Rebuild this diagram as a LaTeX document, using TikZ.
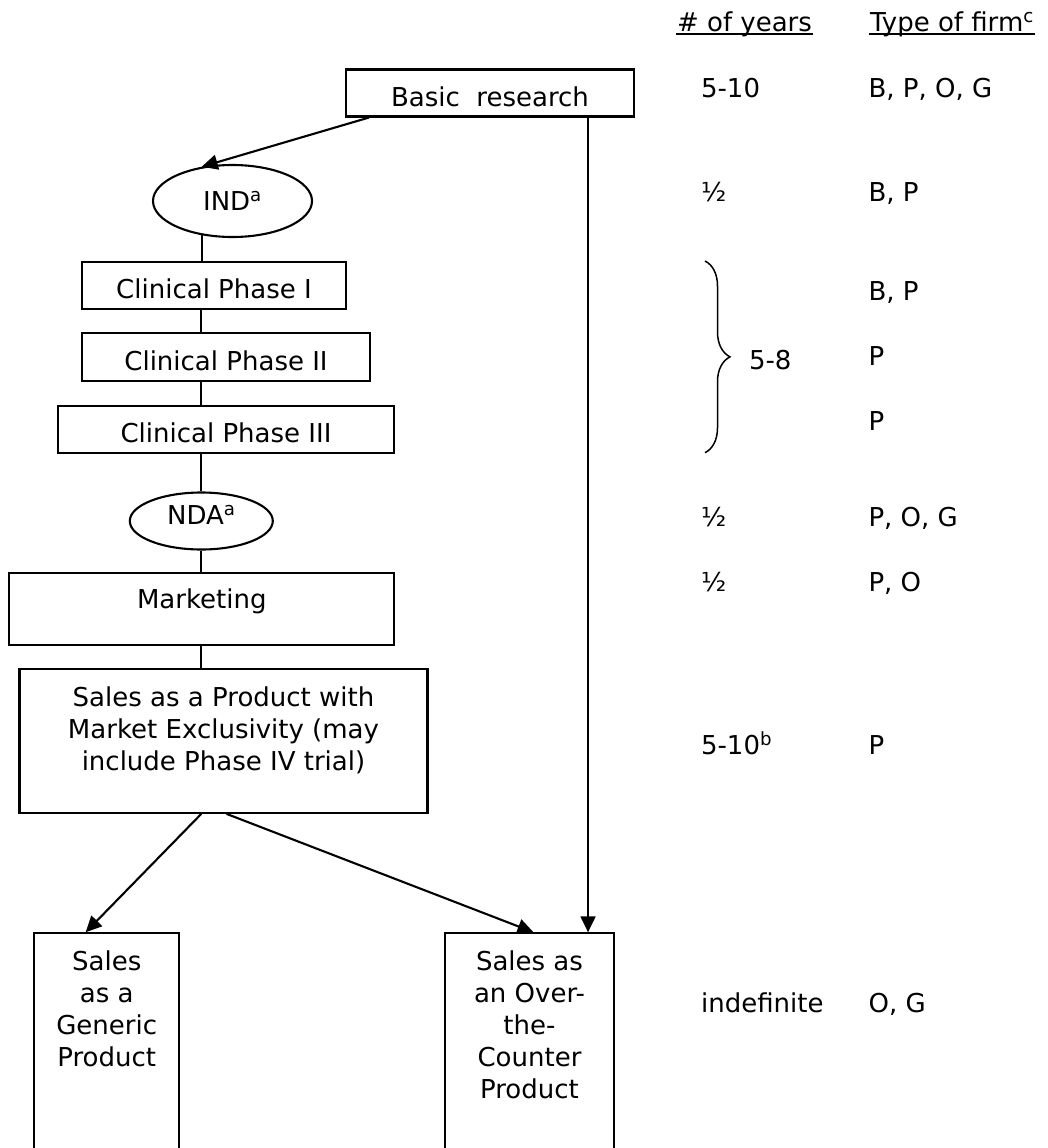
\documentclass[tikz,border=0pt]{standalone}
\usepackage{fontspec}
\setmainfont{DejaVu Sans}
\usetikzlibrary{arrows.meta, positioning, calc, shapes.geometric, decorations.pathreplacing}

\begin{document}
\begin{tikzpicture}[x=1pt, y=-1pt, line width=2.1pt,
  font=\fontsize{26}{32}\selectfont,
  >={Triangle[length=16pt, width=15pt]},
  box/.style={draw, rectangle, inner sep=0pt, text height=27pt, text depth=0pt},
  oval/.style={draw, ellipse, inner sep=0pt},
  col/.style={anchor=base west, inner sep=0pt}]
\useasboundingbox (0,0) rectangle (1047,1148);

\node[box, minimum width=288pt, minimum height=47pt] (basic) at (490,93) {Basic\ \ research};
\node[oval, minimum width=159pt, minimum height=72pt] (ind) at (232.5,201) {IND\textsuperscript{a}};
\node[box, minimum width=264pt, minimum height=47pt] (c1) at (214,285.3) {Clinical Phase I};
\node[box, minimum width=288pt, minimum height=48pt] (c2) at (226,357) {Clinical Phase II};
\node[box, minimum width=336pt, minimum height=47pt] (c3) at (226,429.2) {Clinical Phase III};
\node[oval, minimum width=143pt, minimum height=57pt, text depth=12pt] (nda) at (201.3,521) {NDA\textsuperscript{a}};
\node[draw, inner sep=0pt, minimum width=385pt, minimum height=72pt] (mkt) at (201.8,609.2) {};
\node[anchor=base, inner sep=0pt] (mkttxt) at ($(mkt.north)+(0,36.7)$) {Marketing};
\node[draw, inner sep=0pt, minimum width=408pt, minimum height=144pt] (sales) at (223.5,740.8) {};
\node[anchor=north, align=center, inner sep=0pt] (salestxt) at ($(sales.north)+(0,18)$)
  {Sales as a Product with\\Market Exclusivity (may\\include Phase IV trial)};
\node[draw, inner sep=0pt, minimum width=145pt, minimum height=240pt] (gen) at (106.7,1053.3) {};
\node[anchor=north, align=center, inner sep=0pt] (gentxt) at ($(gen.north)+(0,17.7)$)
  {Sales\\as a\\Generic\\Product};
\node[draw, inner sep=0pt, minimum width=169pt, minimum height=240pt] (otc) at (529.5,1053.3) {};
\node[anchor=north, align=center, inner sep=0pt] (otctxt) at ($(otc.north)+(0,17.7)$)
  {Sales as\\an Over-\\the-\\Counter\\Product};

\draw[->] ($(basic.south west)+(24,0)$) -- (ind.132);
\draw (ind.228) -- (ind.228 |- c1.north);
\draw (c1.south -| nda) -- (c2.north -| nda);
\draw (c2.south -| nda) -- (c3.north -| nda);
\draw (c3.south -| nda) -- (nda.north);
\draw (nda.south) -- (mkt.north -| nda);
\draw (mkt.south -| nda) -- (sales.north -| nda);
\draw[->] (sales.south -| nda) -- ($(gen.north)+(-21,0)$);
\draw[->] ($(sales.south)+(3,0)$) -- ($(otc.north)+(4,0)$);
\coordinate (drop) at ($(basic.south east)+(-47,0)$);
\draw[->] (drop) -- (drop |- otc.north);

\node[col] (hyrs) at (676,31.5) {\# of years};
\node[col] (hfirm) at (869,31.5) {Type of firm\textsuperscript{c}};
\draw ([yshift=-2.5pt]hyrs.base west) -- ([yshift=-2.5pt]hyrs.base east);
\draw ([yshift=-2.5pt]hfirm.base west) -- ([yshift=-2.5pt]hfirm.base east);

\foreach \yb/\txt [count=\i] in {97.7/5-10, 201.7/½, 526/½, 591.7/½,
    754.3/5-10\textsuperscript{b}, 1012/indefinite}
  \node[col] (yrs\i) at (700,\yb) {\txt};
\foreach \yb/\txt [count=\i] in {97.7/{B, P, O, G}, 201.7/{B, P}, 300.7/{B, P},
    365/P, 430/P, 526/{P, O, G}, 591.7/{P, O}, 754.3/P, 1012/{O, G}}
  \node[col] (firm\i) at (867.5,\yb) {\txt};

\draw[line width=1.5pt, decorate, decoration={brace, amplitude=25pt}] (705,261) -- (705,452.7);
\node[col] (clin) at (748,369.3) {5-8};
\end{tikzpicture}
\end{document}
